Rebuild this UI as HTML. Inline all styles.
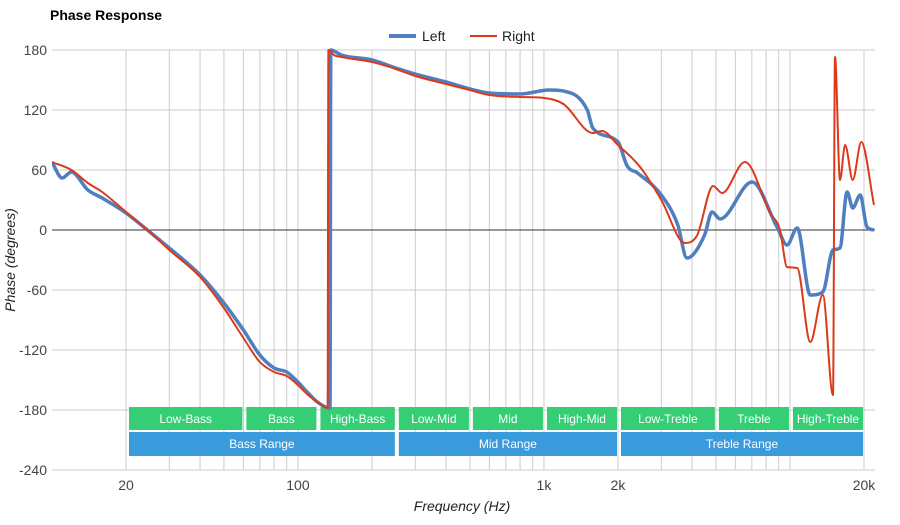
<!DOCTYPE html>
<html><head><meta charset="utf-8"><style>
body{margin:0;background:#fff;font-family:"Liberation Sans",Arial,sans-serif}
svg text{font-family:"Liberation Sans",Arial,sans-serif}
</style></head><body>
<svg id="chart" width="900" height="520" viewBox="0 0 900 520">
<text x="50" y="20" font-size="14" font-weight="bold" fill="#000">Phase Response</text>
<g>
<g><line x1="389" y1="36" x2="416" y2="36" stroke="#4e7fc0" stroke-width="4"/><text x="422" y="41" font-size="14" fill="#222">Left</text></g>
<g><line x1="470" y1="36" x2="497" y2="36" stroke="#dd3a1a" stroke-width="2"/><text x="502" y="41" font-size="14" fill="#222">Right</text></g>
</g>
<g id="grid"></g><g id="zero"></g><g id="bands"></g><g id="series"></g><g id="axes"></g>
<text transform="translate(15,260) rotate(-90)" text-anchor="middle" font-size="14" font-style="italic" fill="#222">Phase (degrees)</text>
<text x="462" y="511" text-anchor="middle" font-size="14" font-style="italic" fill="#222">Frequency (Hz)</text>
</svg>
<script>
const yTicks=[180,120,60,0,-60,-120,-180,-240];
const xTickVals=[20,100,1000,2000,20000];
const xTickLabels=["20","100","1k","2k","20k"];
const leftFreq=[10,11,12,14,16,20,25,30,40,50,60,70,80,90,100,110,120,135,136,150,200,250,300,400,500,600,800,1050,1200,1500,1580,2000,2180,2400,3000,3500,3810,4500,4820,5200,7010,8860,9730,10700,12100,13600,14960,15970,17070,18000,19300,20560,21970];
const leftVals=[68,52,58,40,32,17,-2,-18,-45,-73,-100,-125,-138,-142,-152,-163,-172,-178,180,175,170,162,156,148,141,137,136,140,139,120,102,88,64,57,35,5,-28,-5,18,11,48,3,-15,2,-65,-62,-20,-18,38,22,35,3,0];
const rightFreq=[10,12,14,16,20,25,30,40,50,60,70,80,90,100,110,120,132,133,140,150,200,250,300,400,500,600,800,1000,1200,1580,1720,2000,2460,3000,3740,4200,4870,5300,6560,8300,9110,9730,10700,12100,13600,14960,15250,15970,16760,18000,19500,21970];
const rightVals=[68,60,47,38,18,-2,-20,-47,-78,-108,-132,-142,-146,-155,-165,-172,-178,180,175,173,168,161,154,146,140,135,133,132,126,97,99,85,63,30,-13,-5,44,37,68,17,0,-37,-38,-112,-65,-165,173,50,85,50,88,25];
const bandNames=["Low-Bass","Bass","High-Bass","Low-Mid","Mid","High-Mid","Low-Treble","Treble","High-Treble"];
const bandEdges=[[20,60],[60,120],[120,250],[250,500],[500,1000],[1000,2000],[2000,5000],[5000,10000],[10000,20000]];
const rangeNames=["Bass Range","Mid Range","Treble Range"];
const rangeEdges=[[20,250],[250,2000],[2000,20000]];
const NS="http://www.w3.org/2000/svg";
const X0=52,X1=875,Y0=50,Y1=470;
function xs(f){return 126+(Math.log10(f)-Math.log10(20))*246;}
function ys(v){return 230-v;}
function mk(t,a,p){const e=document.createElementNS(NS,t);for(const k in a)e.setAttribute(k,a[k]);p.appendChild(e);return e;}
const grid=document.getElementById('grid');
for(const v of yTicks){
 if(v===0)continue;
 const l=mk('line',{x1:X0,x2:X1,y1:ys(v),y2:ys(v),stroke:'#ccc','stroke-width':1},grid);
 
 
}
const minor=[];
for(const d of [10,100,1000,10000])for(let k=1;k<10;k++){const f=d*k;if(f>=20&&f<=20000)minor.push(f);}
minor.push(20000);
for(const f of minor){
 const l=mk('line',{x1:xs(f),x2:xs(f),y1:Y0,y2:Y1,stroke:'#ccc','stroke-width':1},grid);
 
 
}
const zl=mk('line',{x1:X0,x2:X1,y1:ys(0),y2:ys(0),stroke:'#333','stroke-width':1},document.getElementById('zero'));


const axes=document.getElementById('axes');
for(const v of yTicks){
 const t=mk('text',{x:47,y:ys(v)+5,'text-anchor':'end','font-size':14,fill:'#444'},axes);t.textContent=v;
 
 
}
xTickVals.forEach((f,i)=>{
 const t=mk('text',{x:xs(f),y:490,'text-anchor':'middle','font-size':14,fill:'#444'},axes);t.textContent=xTickLabels[i];
 
 
});
const bands=document.getElementById('bands');
bandNames.forEach((n,i)=>{
 const a=xs(bandEdges[i][0])+3,b=xs(bandEdges[i][1])+1;
 const g=mk('g',{},bands);
 
 
 mk('rect',{x:a,y:407,width:b-a-2,height:23,fill:'#2ecc71','fill-opacity':0.97},g);
 const t=mk('text',{x:(a+b-2)/2,y:423,'text-anchor':'middle','font-size':12,fill:'#fff'},g);t.textContent=n;
});
rangeNames.forEach((n,i)=>{
 const a=xs(rangeEdges[i][0])+3,b=xs(rangeEdges[i][1])+1;
 const g=mk('g',{},bands);
 
 
 mk('rect',{x:a,y:432,width:b-a-2,height:24,fill:'#3498db','fill-opacity':0.97},g);
 const t=mk('text',{x:(a+b-2)/2,y:448,'text-anchor':'middle','font-size':12,fill:'#fff'},g);t.textContent=n;
});
function monoPath(px,py){
 const n=px.length,d=[],m=[];
 for(let i=0;i<n-1;i++)d.push((py[i+1]-py[i])/(px[i+1]-px[i]));
 m[0]=d[0];m[n-1]=d[n-2];
 for(let i=1;i<n-1;i++)m[i]=(d[i-1]*d[i]<=0)?0:(d[i-1]+d[i])/2;
 for(let i=0;i<n-1;i++){
  if(d[i]===0){m[i]=0;m[i+1]=0;continue;}
  const a=m[i]/d[i],b=m[i+1]/d[i],s=a*a+b*b;
  if(s>9){const t=3/Math.sqrt(s);m[i]=t*a*d[i];m[i+1]=t*b*d[i];}
 }
 let s='M'+px[0].toFixed(1)+','+py[0].toFixed(1);
 for(let i=0;i<n-1;i++){const h=px[i+1]-px[i];
  s+=' C'+(px[i]+h/3).toFixed(1)+','+(py[i]+m[i]*h/3).toFixed(1)+' '+(px[i+1]-h/3).toFixed(1)+','+(py[i+1]-m[i+1]*h/3).toFixed(1)+' '+px[i+1].toFixed(1)+','+py[i+1].toFixed(1);}
 return s;
}
const ser=document.getElementById('series');
const defs=mk('defs',{},ser);const cp=mk('clipPath',{id:'clip'},defs);mk('rect',{x:X0,y:Y0-2,width:X1-X0,height:Y1-Y0+2},cp);
const pl=mk('path',{d:monoPath(leftFreq.map(xs),leftVals.map(ys)),fill:'none',stroke:'#4e7fc0','stroke-width':3.5,'stroke-linejoin':'round','clip-path':'url(#clip)'},ser);


const pr=mk('path',{d:monoPath(rightFreq.map(xs),rightVals.map(ys)),fill:'none',stroke:'#dd3a1a','stroke-width':2,'stroke-linejoin':'round','clip-path':'url(#clip)'},ser);


</script>
</body></html>
